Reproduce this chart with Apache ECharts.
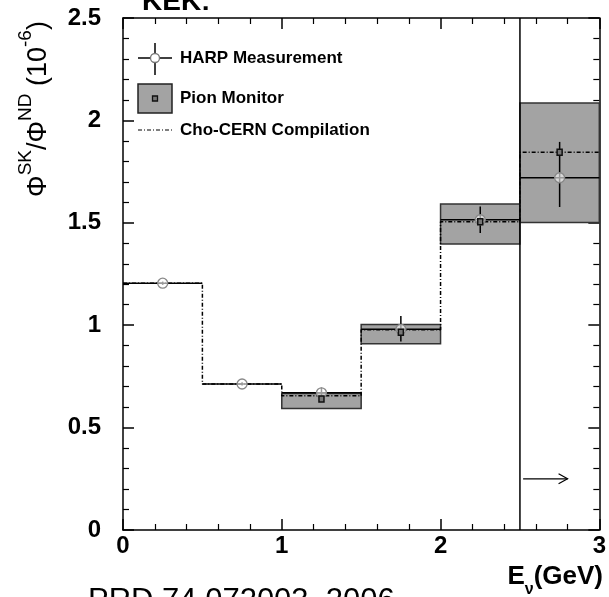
<!DOCTYPE html>
<html>
<head>
<meta charset="utf-8">
<script src="https://cdn.jsdelivr.net/npm/echarts@6/dist/echarts.min.js"></script>
<style>
html,body{margin:0;padding:0;background:#fff;}
#chart{width:609px;height:597px;}
</style>
</head>
<body>
<div id="chart"></div>
<script>
// ---- data ----
const binEdges = [0, 0.5, 1, 1.5, 2, 2.5, 3];
const harpValues = [1.205, 0.713, 0.67, 0.98, 1.515, 1.72];
const harpErrUp = [0.008, 0.008, 0.025, 0.065, 0.065, 0.175];
const harpErrDown = [0.008, 0.008, 0.02, 0.06, 0.065, 0.143];
const pionLow = [null, null, 0.593, 0.91, 1.396, 1.502];
const pionHigh = [null, null, 0.667, 1.004, 1.592, 2.085];
const pionCentral = [null, null, 0.64, 0.965, 1.505, 1.845];
const choValues = [1.205, 0.713, 0.655, 0.978, 1.505, 1.845];
const cutEnergy = 2.5;
const arrowX = [2.52, 2.8];
const arrowY = 0.25;
const xTickLabels = ['0', '1', '2', '3'];
const yTickLabels = ['0', '0.5', '1', '1.5', '2', '2.5'];

const FONT = "'Liberation Sans', Arial, Helvetica, sans-serif";

// ---- derived tables ----
const harpData = harpValues.map((v, i) => [binEdges[i], binEdges[i + 1], v, v - harpErrDown[i], v + harpErrUp[i]]);
const pionData = [];
pionLow.forEach((lo, i) => {
  if (lo !== null) pionData.push([binEdges[i], binEdges[i + 1], lo, pionHigh[i], pionCentral[i]]);
});
const choData = [];
choValues.forEach((v, i) => { choData.push([binEdges[i], v]); choData.push([binEdges[i + 1], v]); });

function axisCommon(isX, pos, showLabel) {
  return {
    type: 'value',
    position: pos,
    min: 0,
    max: isX ? 3 : 2.5,
    interval: isX ? 1 : 0.5,
    axisLine: { show: true, onZero: false, lineStyle: { color: '#000', width: 1.5 } },
    axisTick: { show: true, inside: true, length: 11, lineStyle: { color: '#000', width: 1.5 } },
    minorTick: { show: true, splitNumber: 5, length: 6, lineStyle: { color: '#000', width: 1.2 } },
    splitLine: { show: false },
    minorSplitLine: { show: false },
    axisLabel: {
      show: showLabel,
      color: '#000',
      fontSize: 24,
      fontWeight: 'bold',
      fontFamily: FONT,
      margin: isX ? 4 : 22,
      formatter: function (val) {
        const arr = isX ? xTickLabels : yTickLabels;
        const idx = Math.round(val / (isX ? 1 : 0.5));
        return arr[idx] !== undefined ? arr[idx] : '';
      }
    }
  };
}

const chart = echarts.init(document.getElementById('chart'), null, { renderer: 'canvas' });

const option = {
  animation: false,
  backgroundColor: '#fff',
  grid: { left: 123, top: 18, width: 481, height: 512, containLabel: false },
  xAxis: [axisCommon(true, 'bottom', true), axisCommon(true, 'top', false)],
  yAxis: [axisCommon(false, 'left', true), axisCommon(false, 'right', false)],
  series: [
    {
      name: 'Pion Monitor',
      type: 'custom',
      z: 1,
      xAxisIndex: 0, yAxisIndex: 0,
      data: pionData,
      renderItem: function (params, api) {
        const p0 = api.coord([api.value(0), api.value(3)]);
        const p1 = api.coord([api.value(1), api.value(2)]);
        return {
          type: 'rect',
          shape: { x: p0[0], y: p0[1], width: p1[0] - p0[0], height: p1[1] - p0[1] },
          style: { fill: '#a3a3a3', stroke: '#333', lineWidth: 1.5 }
        };
      }
    },
    {
      name: 'Cho-CERN Compilation',
      type: 'line',
      z: 2,
      xAxisIndex: 0, yAxisIndex: 0,
      data: choData,
      symbol: 'none',
      lineStyle: { color: '#000', width: 1.5, type: [4, 2, 1, 2] }
    },
    {
      name: 'HARP Measurement',
      type: 'custom',
      z: 3,
      xAxisIndex: 0, yAxisIndex: 0,
      data: harpData,
      renderItem: function (params, api) {
        const x0 = api.value(0), x1 = api.value(1), v = api.value(2), lo = api.value(3), hi = api.value(4);
        const xc = (x0 + x1) / 2;
        const a = api.coord([x0, v]), b = api.coord([x1, v]);
        const c = api.coord([xc, v]), l = api.coord([xc, lo]), h = api.coord([xc, hi]);
        return {
          type: 'group',
          children: [
            { type: 'line', shape: { x1: a[0], y1: a[1], x2: b[0], y2: b[1] }, style: { stroke: '#000', lineWidth: 1.5 } },
            { type: 'line', shape: { x1: l[0], y1: l[1], x2: h[0], y2: h[1] }, style: { stroke: '#000', lineWidth: 1.5 } },
            { type: 'circle', shape: { cx: c[0], cy: c[1], r: 5 }, style: { fill: 'rgba(255,255,255,0.6)', stroke: '#888', lineWidth: 1.3 } }
          ]
        };
      }
    },
    {
      name: 'Pion Monitor central',
      type: 'custom',
      z: 4,
      xAxisIndex: 0, yAxisIndex: 0,
      data: pionData,
      renderItem: function (params, api) {
        const pc = api.coord([(api.value(0) + api.value(1)) / 2, api.value(4)]);
        return {
          type: 'rect',
          shape: { x: pc[0] - 2.5, y: pc[1] - 3, width: 5, height: 6 },
          style: { fill: '#777', stroke: '#111', lineWidth: 1.5 }
        };
      }
    },
    {
      name: 'cut',
      type: 'custom',
      z: 5,
      xAxisIndex: 0, yAxisIndex: 0,
      data: [[cutEnergy, arrowX[0], arrowX[1], arrowY]],
      renderItem: function (params, api) {
        const xc = api.value(0);
        const t = api.coord([xc, 2.5]), bt = api.coord([xc, 0]);
        const s = api.coord([api.value(1), api.value(3)]), e = api.coord([api.value(2), api.value(3)]);
        return {
          type: 'group',
          children: [
            { type: 'line', shape: { x1: t[0], y1: t[1], x2: bt[0], y2: bt[1] }, style: { stroke: '#000', lineWidth: 1.5 } },
            { type: 'line', shape: { x1: s[0], y1: s[1], x2: e[0], y2: e[1] }, style: { stroke: '#000', lineWidth: 1.2 } },
            { type: 'polyline', shape: { points: [[e[0] - 9, e[1] - 5], [e[0], e[1]], [e[0] - 9, e[1] + 5]] }, style: { stroke: '#000', lineWidth: 1.2, fill: null } }
          ]
        };
      }
    }
  ],
  graphic: [
    // legend: HARP
    { type: 'line', shape: { x1: 138, y1: 58, x2: 172, y2: 58 }, style: { stroke: '#000', lineWidth: 1.5 }, z: 10 },
    { type: 'line', shape: { x1: 155, y1: 43, x2: 155, y2: 75 }, style: { stroke: '#000', lineWidth: 1.5 }, z: 10 },
    { type: 'circle', shape: { cx: 155, cy: 58, r: 4.5 }, style: { fill: '#fff', stroke: '#777', lineWidth: 1.3 }, z: 11 },
    { type: 'text', x: 180, y: 58, style: { text: 'HARP Measurement', fontSize: 17, fontWeight: 'bold', fontFamily: FONT, fill: '#000', verticalAlign: 'middle' }, z: 10 },
    // legend: Pion Monitor
    { type: 'rect', shape: { x: 138, y: 84, width: 34, height: 29 }, style: { fill: '#a3a3a3', stroke: '#222', lineWidth: 1.5 }, z: 10 },
    { type: 'rect', shape: { x: 152.5, y: 96, width: 5, height: 5 }, style: { fill: '#777', stroke: '#111', lineWidth: 1.3 }, z: 11 },
    { type: 'text', x: 180, y: 98, style: { text: 'Pion Monitor', fontSize: 17, fontWeight: 'bold', fontFamily: FONT, fill: '#000', verticalAlign: 'middle' }, z: 10 },
    // legend: Cho-CERN
    { type: 'line', shape: { x1: 138, y1: 130, x2: 172, y2: 130 }, style: { stroke: '#000', lineWidth: 1.2, lineDash: [4, 2, 1, 2] }, z: 10 },
    { type: 'text', x: 180, y: 130, style: { text: 'Cho-CERN Compilation', fontSize: 17, fontWeight: 'bold', fontFamily: FONT, fill: '#000', verticalAlign: 'middle' }, z: 10 },
    // y axis title
    {
      type: 'text', x: 34, y: 109, rotation: Math.PI / 2, z: 10,
      style: {
        text: '{m|Φ}{s|SK}{m|/Φ}{s|ND}{m| (10}{s|-6}{m|)}',
        align: 'center', verticalAlign: 'middle', fontFamily: FONT, fill: '#000',
        rich: {
          m: { fontSize: 27, fontFamily: FONT, fill: '#000', lineHeight: 36, verticalAlign: 'bottom' },
          s: { fontSize: 19, fontFamily: FONT, fill: '#000', lineHeight: 36, verticalAlign: 'top' }
        }
      }
    },
    // x axis title
    {
      type: 'text', x: 603, y: 581, z: 10,
      style: {
        text: '{m|E}{s|ν}{m|(GeV)}',
        align: 'right', verticalAlign: 'middle', fontFamily: FONT, fill: '#000',
        rich: {
          m: { fontSize: 26, fontWeight: 'bold', fontFamily: FONT, fill: '#000', lineHeight: 34, verticalAlign: 'top' },
          s: { fontSize: 16, fontWeight: 'bold', fontFamily: FONT, fill: '#000', lineHeight: 34, verticalAlign: 'bottom' }
        }
      }
    },
    // slide text cut at edges
    { type: 'text', x: 142, y: 16, style: { text: 'KEK:', fontSize: 28, fontWeight: 'bold', fontFamily: FONT, fill: '#000', verticalAlign: 'bottom' }, z: 10 },
    { type: 'text', x: 88, y: 617, style: { text: 'PRD 74 072003, 2006', fontSize: 31, fontFamily: FONT, fill: '#000', verticalAlign: 'bottom' }, z: 10 }
  ]
};

chart.setOption(option);
</script>
</body>
</html>
